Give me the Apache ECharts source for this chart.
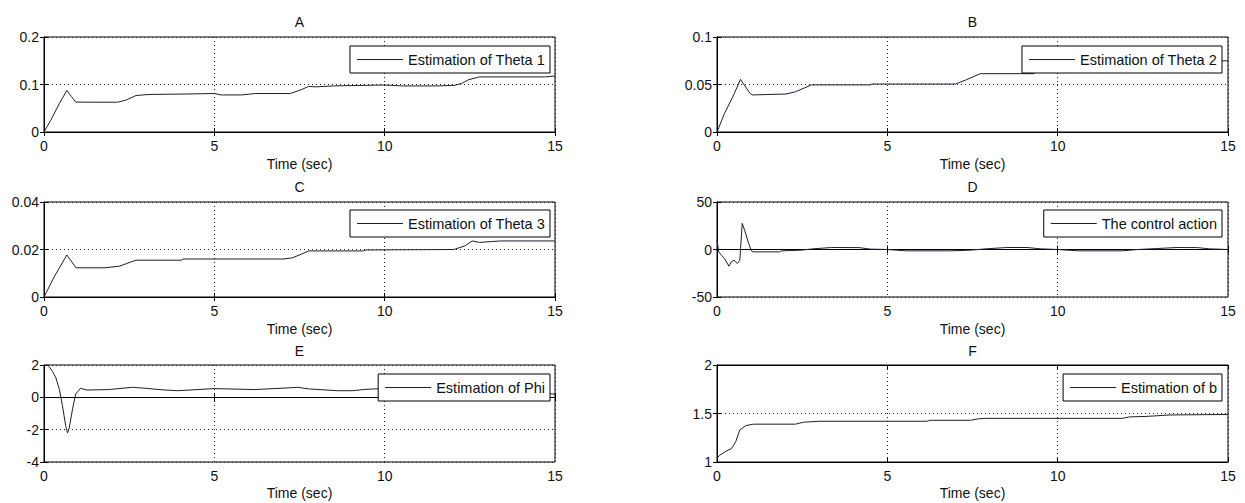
<!DOCTYPE html>
<html><head><meta charset="utf-8">
<script src="https://cdn.jsdelivr.net/npm/echarts@6/dist/echarts.min.js"></script>
<style>html,body{margin:0;padding:0;background:#fff}#c{width:1245px;height:503px}</style>
</head><body><div id="c"></div>
<script>
// ---- data ----
const titles = ['A', 'B', 'C', 'D', 'E', 'F'];
const seriesNames = ['Estimation of Theta 1', 'Estimation of Theta 2', 'Estimation of Theta 3',
  'The control action', 'Estimation of Phi', 'Estimation of b'];
const xName = 'Time (sec)';
const xMin = 0, xMax = 15, xStep = 5;
const yMin = [0, 0, 0, -50, -4, 1];
const yMax = [0.2, 0.1, 0.04, 50, 2, 2];
const yStep = [0.1, 0.05, 0.02, 50, 2, 0.5];

const tA = [0, 0.2, 0.45, 0.67, 0.8, 0.93, 1.5, 2.16, 2.4, 2.7, 3.08, 4.2, 5.0, 5.2, 5.8, 6.2, 7.23, 7.55, 7.77, 7.98, 8.5, 10.0, 10.5, 11.5, 12.03, 12.25, 12.46, 12.78, 14.7, 15];
const yA = [0, 0.025, 0.06, 0.0875, 0.075, 0.063, 0.0627, 0.0627, 0.067, 0.0768, 0.079, 0.080, 0.081, 0.078, 0.078, 0.081, 0.081, 0.089, 0.096, 0.095, 0.097, 0.099, 0.097, 0.097, 0.098, 0.102, 0.110, 0.116, 0.116, 0.118];

const tB = [0, 0.22, 0.47, 0.69, 0.96, 1.03, 2.03, 2.28, 2.57, 2.77, 4.5, 4.55, 7.0, 7.32, 7.73, 9.31, 9.36, 12.2, 12.5, 13.0, 15];
const yB = [0, 0.0196, 0.0375, 0.0554, 0.041, 0.039, 0.040, 0.0421, 0.0464, 0.0496, 0.0496, 0.0505, 0.0505, 0.055, 0.0614, 0.0614, 0.0635, 0.0645, 0.07, 0.074, 0.075];

const tC = [0, 0.3, 0.67, 0.94, 1.79, 2.22, 2.43, 2.7, 4.03, 4.1, 7.02, 7.29, 7.55, 7.77, 9.37, 9.45, 12.03, 12.35, 12.57, 12.78, 13.1, 13.4, 15];
const yC = [0, 0.0085, 0.0177, 0.0123, 0.0123, 0.013, 0.0141, 0.0155, 0.0155, 0.016, 0.016, 0.0165, 0.018, 0.0194, 0.0194, 0.0198, 0.020, 0.0215, 0.0236, 0.023, 0.0233, 0.0236, 0.0236];

const tD = [0, 0.05, 0.13, 0.22, 0.35, 0.42, 0.5, 0.6, 0.67, 0.74, 0.81, 0.93, 1.01, 1.06, 1.84, 1.9, 2.48, 2.82, 3.36, 4.17, 4.5, 5.0, 5.57, 6.86, 7.44, 7.9, 8.5, 9.1, 9.5, 10.0, 10.6, 11.9, 12.35, 12.9, 13.5, 14.1, 14.45, 15];
const yD = [10, -2.5, -6, -9.5, -17.6, -13, -11.3, -14.8, -11.3, 27.5, 20.4, 6.3, -1.4, -2.5, -2.5, -1.4, -0.7, 0.7, 2.1, 2, 0.4, 0, -1.4, -1.4, -0.7, 0.7, 2.1, 2.1, 0.7, 0, -1.4, -1.4, 0, 1, 2.1, 2, 0.7, 0];

const tE = [0, 0.1, 0.15, 0.25, 0.35, 0.45, 0.54, 0.64, 0.69, 0.74, 0.84, 0.93, 1.07, 1.26, 1.9, 2.6, 2.97, 3.5, 3.93, 5.0, 6.17, 7.13, 7.45, 7.77, 8.62, 9.05, 9.37, 9.67, 10.5, 12.5, 14, 15];
const yE = [1.95, 2.0, 1.9, 1.6, 1.2, 0.5, -0.5, -1.8, -2.2, -1.9, -0.7, 0.2, 0.56, 0.45, 0.48, 0.62, 0.56, 0.46, 0.41, 0.54, 0.48, 0.58, 0.62, 0.52, 0.41, 0.41, 0.48, 0.52, 0.55, 0.5, 0.3, 0.2];

const tF = [0, 0.08, 0.26, 0.43, 0.55, 0.67, 0.84, 1.07, 2.3, 2.54, 3.0, 6.16, 6.25, 7.44, 7.67, 7.9, 11.9, 12.1, 12.6, 13.3, 15];
const yF = [1.04, 1.07, 1.11, 1.14, 1.21, 1.33, 1.375, 1.39, 1.39, 1.41, 1.42, 1.42, 1.43, 1.43, 1.445, 1.45, 1.45, 1.465, 1.47, 1.485, 1.49];

const times = [tA, tB, tC, tD, tE, tF];
const values = [yA, yB, yC, yD, yE, yF];

// ---- layout / style ----
const FONT = "'Liberation Sans', Arial, sans-serif";
const INK = '#111';
const LINE = '#1e1e2e';
const colLeft = [44, 717];
const rowTop = [37, 202, 365];
const rowH = [95, 95, 97];
const titleTop = [15, 180, 344];
const legTop = [46, 210, 374];
const legRight = [695, 23];
const plotW = 511;

const grid = [], xAxis = [], yAxis = [], series = [], legend = [], title = [];
const dotted = { show: true, lineStyle: { color: '#222', type: [1, 3], width: 1 } };
const tickIn = { show: true, inside: true, length: 4, lineStyle: { color: '#000' } };
const axLine = { show: true, lineStyle: { color: '#000', width: 1 } };
const lbl = { color: INK, fontSize: 14, fontFamily: FONT };

for (let i = 0; i < 6; i++) {
  const col = i % 2, row = Math.floor(i / 2);
  grid.push({ left: colLeft[col], top: rowTop[row], width: plotW, height: rowH[row],
    show: true, borderColor: '#000', borderWidth: 1, backgroundColor: 'transparent' });
  xAxis.push({ type: 'value', gridIndex: i, min: xMin, max: xMax, interval: xStep, position: 'bottom',
    axisLine: axLine, axisTick: tickIn, splitLine: dotted,
    axisLabel: Object.assign({ margin: 7 }, lbl),
    name: xName, nameLocation: 'middle', nameGap: row === 2 ? 24 : 25,
    nameTextStyle: Object.assign({}, lbl) });
  xAxis.push({ type: 'value', gridIndex: i, min: xMin, max: xMax, interval: xStep, position: 'top',
    axisLine: axLine, axisTick: tickIn, splitLine: { show: false }, axisLabel: { show: false } });
  yAxis.push({ type: 'value', gridIndex: i, min: yMin[i], max: yMax[i], interval: yStep[i], position: 'left',
    axisLine: axLine, axisTick: tickIn, splitLine: dotted,
    axisLabel: Object.assign({ margin: 5 }, lbl) });
  yAxis.push({ type: 'value', gridIndex: i, min: yMin[i], max: yMax[i], interval: yStep[i], position: 'right',
    axisLine: axLine, axisTick: tickIn, splitLine: { show: false }, axisLabel: { show: false } });
  series.push({ type: 'line', name: seriesNames[i], xAxisIndex: 2 * i, yAxisIndex: 2 * i,
    data: times[i].map((t, k) => [t, values[i][k]]),
    symbol: 'none', showSymbol: false, animation: false,
    lineStyle: { color: LINE, width: 1 }, itemStyle: { color: LINE } });
  legend.push({ data: [seriesNames[i]], right: legRight[col], top: legTop[row],
    icon: 'rect', itemWidth: 46, itemHeight: 1, itemGap: 0, padding: [6, 5, 6, 7],
    backgroundColor: '#fff', borderColor: '#000', borderWidth: 1, borderRadius: 0,
    selectedMode: false, textStyle: { color: INK, fontSize: 14.5, fontFamily: FONT } });
  title.push({ text: titles[i], left: colLeft[col] + plotW / 2, top: titleTop[row], textAlign: 'center',
    padding: 0, textStyle: { color: INK, fontSize: 14, fontWeight: 'normal', fontFamily: FONT } });
}

const chart = echarts.init(document.getElementById('c'), null, { renderer: 'svg' });
chart.setOption({ backgroundColor: '#fff', animation: false, title, grid, xAxis, yAxis, series, legend });
</script>
</body></html>
